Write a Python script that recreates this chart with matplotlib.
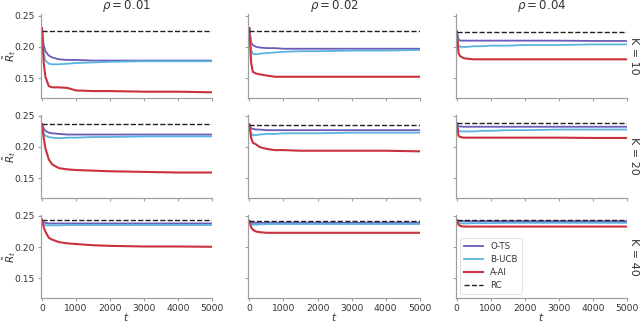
import matplotlib
matplotlib.use("Agg")
import matplotlib.pyplot as plt

t = [0, 50, 100, 200, 300, 500, 750, 1000, 1500, 2000, 3000, 4000, 5000]
rhos = ["0.01", "0.02", "0.04"]
Ks = ["10", "20", "40"]

# RC level per (K row, rho col)
rc_k10 = [0.2255, 0.225, 0.2245]
rc_k20 = [0.237, 0.236, 0.238]
rc_k40 = [0.2435, 0.242, 0.2435]

ots_k10 = [
    [0.230, 0.203, 0.193, 0.186, 0.183, 0.180, 0.179, 0.179, 0.178, 0.178, 0.178, 0.178, 0.178],
    [0.230, 0.207, 0.203, 0.200, 0.199, 0.198, 0.198, 0.197, 0.197, 0.197, 0.197, 0.197, 0.197],
    [0.225, 0.212, 0.210, 0.210, 0.210, 0.210, 0.210, 0.210, 0.210, 0.210, 0.210, 0.2095, 0.2095],
]
bucb_k10 = [
    [0.230, 0.190, 0.178, 0.173, 0.172, 0.172, 0.173, 0.174, 0.175, 0.176, 0.177, 0.177, 0.177],
    [0.230, 0.195, 0.189, 0.188, 0.189, 0.190, 0.191, 0.192, 0.193, 0.193, 0.194, 0.194, 0.195],
    [0.225, 0.202, 0.200, 0.200, 0.200, 0.201, 0.201, 0.202, 0.202, 0.203, 0.203, 0.204, 0.204],
]
aai_k10 = [
    [0.230, 0.175, 0.152, 0.137, 0.135, 0.135, 0.134, 0.130, 0.129, 0.129, 0.128, 0.128, 0.127],
    [0.230, 0.175, 0.160, 0.157, 0.156, 0.154, 0.152, 0.152, 0.152, 0.152, 0.152, 0.152, 0.152],
    [0.225, 0.190, 0.185, 0.182, 0.181, 0.180, 0.180, 0.180, 0.180, 0.180, 0.180, 0.180, 0.180],
]

ots_k20 = [
    [0.237, 0.230, 0.226, 0.223, 0.222, 0.221, 0.220, 0.220, 0.220, 0.220, 0.220, 0.220, 0.220],
    [0.236, 0.230, 0.229, 0.228, 0.228, 0.227, 0.227, 0.227, 0.227, 0.227, 0.227, 0.227, 0.227],
    [0.238, 0.233, 0.233, 0.2325, 0.2325, 0.2325, 0.2325, 0.2325, 0.2325, 0.2325, 0.2325, 0.2325, 0.2325],
]
bucb_k20 = [
    [0.237, 0.222, 0.218, 0.216, 0.215, 0.214, 0.215, 0.215, 0.216, 0.216, 0.217, 0.217, 0.217],
    [0.236, 0.222, 0.219, 0.219, 0.220, 0.221, 0.221, 0.222, 0.222, 0.222, 0.223, 0.223, 0.223],
    [0.238, 0.226, 0.225, 0.225, 0.225, 0.225, 0.226, 0.226, 0.227, 0.227, 0.228, 0.228, 0.228],
]
aai_k20 = [
    [0.237, 0.215, 0.198, 0.180, 0.172, 0.166, 0.164, 0.163, 0.162, 0.161, 0.160, 0.159, 0.159],
    [0.236, 0.215, 0.207, 0.204, 0.200, 0.197, 0.195, 0.195, 0.194, 0.194, 0.194, 0.194, 0.193],
    [0.238, 0.218, 0.216, 0.215, 0.215, 0.215, 0.215, 0.215, 0.215, 0.215, 0.215, 0.2145, 0.2145],
]

ots_k40 = [
    [0.244, 0.240, 0.239, 0.238, 0.238, 0.238, 0.238, 0.238, 0.238, 0.238, 0.238, 0.238, 0.238],
    [0.242, 0.240, 0.239, 0.239, 0.239, 0.239, 0.239, 0.239, 0.239, 0.239, 0.239, 0.239, 0.239],
    [0.2435, 0.2415, 0.2415, 0.2415, 0.2415, 0.2415, 0.2415, 0.2415, 0.2415, 0.2415, 0.2415, 0.2415, 0.2415],
]
bucb_k40 = [
    [0.244, 0.237, 0.235, 0.235, 0.235, 0.235, 0.2355, 0.2355, 0.2355, 0.2355, 0.2355, 0.2355, 0.2355],
    [0.242, 0.237, 0.236, 0.236, 0.2365, 0.237, 0.237, 0.237, 0.237, 0.237, 0.237, 0.237, 0.237],
    [0.2435, 0.238, 0.238, 0.238, 0.238, 0.2385, 0.2385, 0.2385, 0.239, 0.239, 0.239, 0.239, 0.239],
]
aai_k40 = [
    [0.244, 0.232, 0.225, 0.215, 0.212, 0.208, 0.206, 0.205, 0.203, 0.202, 0.201, 0.201, 0.2005],
    [0.242, 0.232, 0.228, 0.225, 0.224, 0.223, 0.223, 0.223, 0.223, 0.223, 0.223, 0.223, 0.223],
    [0.2435, 0.236, 0.234, 0.233, 0.233, 0.233, 0.233, 0.233, 0.233, 0.233, 0.233, 0.233, 0.233],
]

rc_all = [rc_k10, rc_k20, rc_k40]
ots_all = [ots_k10, ots_k20, ots_k40]
bucb_all = [bucb_k10, bucb_k20, bucb_k40]
aai_all = [aai_k10, aai_k20, aai_k40]

c_ots = "#6a5cb8"
c_bucb = "#5ab4e2"
c_aai = "#c9323d"
spine_c = "#a0a0a0"
text_c = "#333333"

plt.rcParams["font.family"] = "DejaVu Sans"
fig, axes = plt.subplots(3, 3, figsize=(6.4, 3.22), dpi=100)
fig.subplots_adjust(left=0.064, right=0.98, bottom=0.074, top=0.955, wspace=0.21, hspace=0.2)

for i in range(3):
    for j in range(3):
        ax = axes[i][j]
        ax.plot(t, ots_all[i][j], color=c_ots, lw=1.3, label="O-TS")
        ax.plot(t, bucb_all[i][j], color=c_bucb, lw=1.3, label="B-UCB")
        ax.plot(t, aai_all[i][j], color=c_aai, lw=1.5, label="A-AI")
        ax.plot([t[0], t[-1]], [rc_all[i][j]] * 2, color="#222222", lw=1.0, ls="--", label="RC")
        ax.set_xlim(-30, 5000)
        ax.set_ylim(0.118, 0.252)
        ax.set_xticks([0, 1000, 2000, 3000, 4000, 5000])
        ax.set_yticks([0.15, 0.20, 0.25])
        for s in ["top", "right"]:
            ax.spines[s].set_visible(False)
        for s in ["left", "bottom"]:
            ax.spines[s].set_color(spine_c)
            ax.spines[s].set_linewidth(0.9)
        ax.tick_params(colors=spine_c, labelcolor=text_c, labelsize=6.6, length=2.5, width=0.8, pad=2)
        if i < 2:
            ax.set_xticklabels([])
        else:
            ax.set_xlabel("$t$", fontsize=7.5, color=text_c, labelpad=-1.5)
        if j > 0:
            ax.set_yticklabels([])
        else:
            ax.set_yticklabels(["0.15", "0.20", "0.25"])
            ax.set_ylabel(r"$\tilde{R}_t$", fontsize=7.5, color=text_c)
            ax.yaxis.set_label_coords(-0.135, 0.5)
        if i == 0:
            ax.set_title(r"$\rho = %s$" % rhos[j], fontsize=8.5, color=text_c, pad=3)
        if j == 2:
            ax.text(1.01, 0.5, "K = " + Ks[i], transform=ax.transAxes, rotation=270,
                    ha="left", va="center", fontsize=8, color=text_c)

leg = axes[2][2].legend(loc="lower left", fontsize=6.2, frameon=True, handlelength=2.2,
                        borderpad=0.5, labelspacing=0.45, bbox_to_anchor=(0.0, 0.0))
leg.get_frame().set_edgecolor("#dddddd")
leg.get_frame().set_linewidth(0.8)
for txt in leg.get_texts():
    txt.set_color(text_c)

fig.savefig("out.png", dpi=100)
